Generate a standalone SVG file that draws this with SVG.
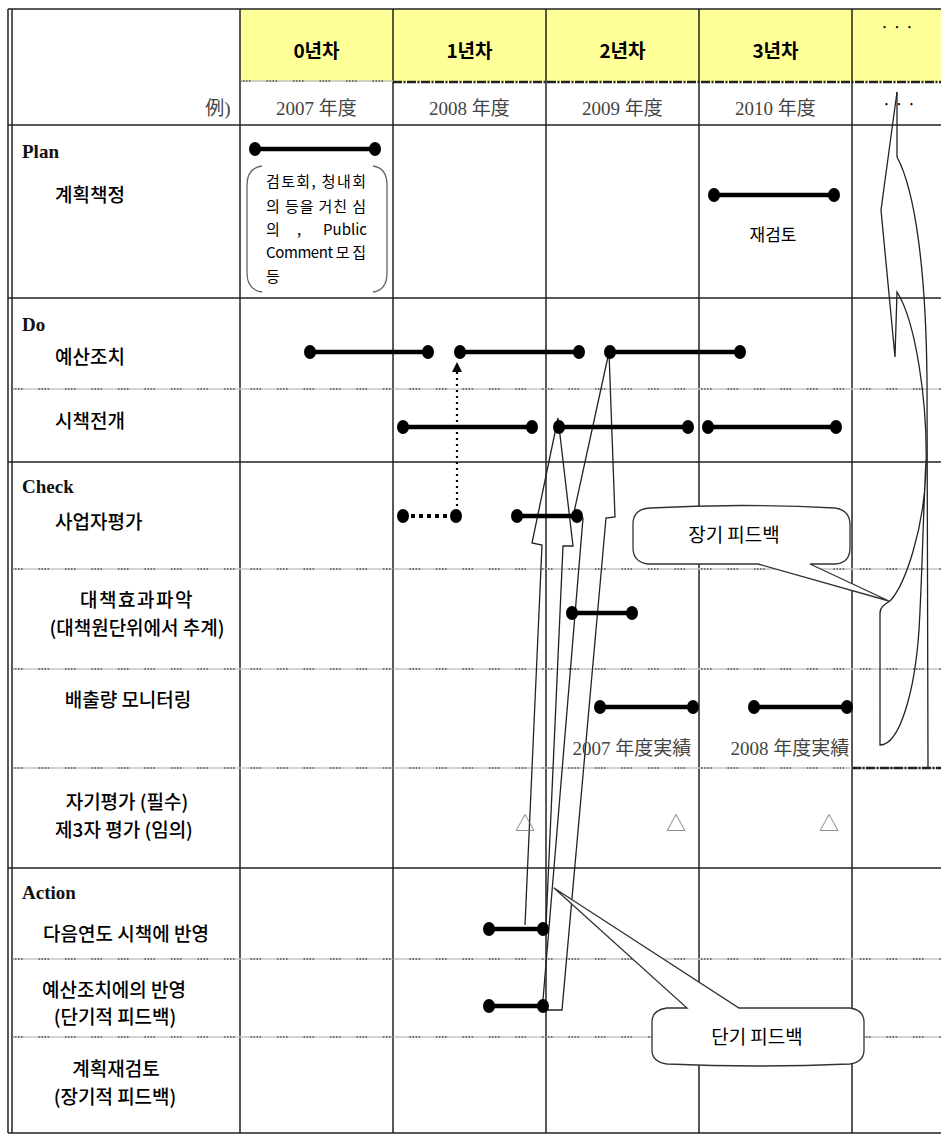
<svg xmlns="http://www.w3.org/2000/svg" width="941" height="1136" viewBox="0 0 941 1136">
<defs>
<style>
.grid{stroke:#222;stroke-width:1.5;fill:none}
.dotb{stroke:#c4c4c4;stroke-width:1.5}
.dotd{stroke:#555;stroke-width:1.5;stroke-dasharray:1.5 1.5 1.5 1.5 1.5 1.5 1.5 16}
.heavy{stroke:#222;stroke-width:2.5;stroke-dasharray:9 1.5 2 1.5}
.bar{stroke:#000;stroke-width:4.5;fill:none}
.pt{fill:#000}
.kr{font-family:"Noto Sans CJK KR","Noto Sans",sans-serif;fill:#000}
.lbl{font-size:19px;font-weight:500}
.hd{font-size:19px;font-weight:bold;text-anchor:middle}
.phase{font-family:"Liberation Serif",serif;font-weight:bold;font-size:19px;fill:#111}
.yr{font-family:"Liberation Serif","Noto Sans CJK JP",serif;font-size:19px;fill:#444;text-anchor:middle}
.outl{fill:none;stroke:#222;stroke-width:1.3;stroke-linejoin:miter}
.call{fill:#fff;stroke:#333;stroke-width:1.3}
.tri{font-family:"Noto Sans CJK JP","DejaVu Sans",sans-serif;font-size:20px;fill:#777;text-anchor:middle}
</style>
</defs>
<rect width="941" height="1136" fill="#fff"/>

<g id="header">
<rect x="240" y="9" width="701" height="73" fill="#FFFF99"/>
<text class="kr hd" x="316.5" y="58">0년차</text>
<text class="kr hd" x="469.5" y="58">1년차</text>
<text class="kr hd" x="622.5" y="58">2년차</text>
<text class="kr hd" x="775.5" y="58">3년차</text>
<text class="kr" x="897" y="33" font-size="16" text-anchor="middle">· · ·</text>
<text class="yr" x="218" y="115" text-anchor="end" fill="#777">例)</text>
<text class="yr" x="316.5" y="115">2007 年度</text>
<text class="yr" x="469.5" y="115">2008 年度</text>
<text class="yr" x="622.5" y="115">2009 年度</text>
<text class="yr" x="775.5" y="115">2010 年度</text>
<text class="kr" x="899" y="110" font-size="16" text-anchor="middle">· · ·</text>
</g>

<g id="grid">
<line class="grid" x1="8" y1="9" x2="941" y2="9"/>
<line class="grid" x1="8" y1="9" x2="8" y2="1133" stroke-width="1.2"/>
<line class="grid" x1="12" y1="9" x2="12" y2="1133" stroke-width="1.2"/>
<line class="grid" x1="8" y1="1133" x2="941" y2="1133"/>
<line class="grid" x1="240" y1="9" x2="240" y2="1133"/>
<line class="grid" x1="393" y1="9" x2="393" y2="1133"/>
<line class="grid" x1="546" y1="9" x2="546" y2="1133"/>
<line class="grid" x1="699" y1="9" x2="699" y2="1133"/>
<line class="grid" x1="852" y1="9" x2="852" y2="1133"/>
<line class="dotb" x1="240" y1="81" x2="393" y2="81"/>
<line class="dotd" x1="240" y1="81" x2="393" y2="81"/>
<line class="heavy" x1="393" y1="82" x2="941" y2="82"/>
<line class="grid" x1="8" y1="125" x2="941" y2="125" stroke-width="2"/>
<line class="grid" x1="8" y1="298" x2="941" y2="298"/>
<line class="grid" x1="8" y1="462" x2="941" y2="462"/>
<line class="grid" x1="8" y1="868" x2="941" y2="868"/>
<g>
<line class="dotb" x1="12" y1="389" x2="941" y2="389"/><line class="dotd" x1="12" y1="389" x2="941" y2="389"/>
<line class="dotb" x1="12" y1="569" x2="941" y2="569"/><line class="dotd" x1="12" y1="569" x2="941" y2="569"/>
<line class="dotb" x1="12" y1="669" x2="941" y2="669"/><line class="dotd" x1="12" y1="669" x2="941" y2="669"/>
<line class="dotb" x1="12" y1="768" x2="941" y2="768"/><line class="dotd" x1="12" y1="768" x2="941" y2="768"/>
<line class="heavy" x1="852" y1="768" x2="941" y2="768"/>
<line class="dotb" x1="12" y1="959" x2="941" y2="959"/><line class="dotd" x1="12" y1="959" x2="941" y2="959"/>
<line class="dotb" x1="12" y1="1037" x2="941" y2="1037"/><line class="dotd" x1="12" y1="1037" x2="941" y2="1037"/>
</g>
</g>

<g id="labels">
<text class="phase" x="22" y="158">Plan</text>
<text class="kr lbl" x="55" y="202">계획책정</text>
<text class="phase" x="22" y="331">Do</text>
<text class="kr lbl" x="55" y="364">예산조치</text>
<text class="kr lbl" x="55" y="428">시책전개</text>
<text class="phase" x="22" y="493">Check</text>
<text class="kr lbl" x="55" y="529">사업자평가</text>
<text class="kr lbl" x="137" y="607" text-anchor="middle" letter-spacing="1.5">대책효과파악</text>
<text class="kr lbl" x="137" y="635" text-anchor="middle">(대책원단위에서 추계)</text>
<text class="kr lbl" x="128" y="707" text-anchor="middle">배출량 모니터링</text>
<text class="kr lbl" x="127" y="809" text-anchor="middle">자기평가 (필수)</text>
<text class="kr lbl" x="124" y="837" text-anchor="middle">제3자 평가 (임의)</text>
<text class="phase" x="22" y="899">Action</text>
<text class="kr lbl" x="126" y="941" text-anchor="middle">다음연도 시책에 반영</text>
<text class="kr lbl" x="114" y="997" text-anchor="middle">예산조치에의 반영</text>
<text class="kr lbl" x="115" y="1024" text-anchor="middle">(단기적 피드백)</text>
<text class="kr lbl" x="116" y="1076" text-anchor="middle">계획재검토</text>
<text class="kr lbl" x="115" y="1104" text-anchor="middle">(장기적 피드백)</text>
</g>

<g id="plan-note">
<path d="M262,166 Q247,168 247,185 L247,273 Q247,290 262,292 M373,166 Q387,168 387,185 L387,273 Q387,290 373,292" fill="none" stroke="#666" stroke-width="1.3"/>
<g class="kr" font-size="15">
<text x="266" y="187" textLength="100" lengthAdjust="spacing">검토회, 청내회</text>
<text x="266" y="212" textLength="100" lengthAdjust="spacing">의 등을 거친 심</text>
<text x="266" y="235">의</text>
<text x="297" y="235">,</text>
<text x="367" y="235" text-anchor="end">Public</text>
<text x="266" y="258" textLength="100" lengthAdjust="spacing">Comment 모 집</text>
<text x="266" y="282">등</text>
</g>
<text class="kr" x="773" y="241" font-size="17" text-anchor="middle">재검토</text>
</g>

<g id="connectors">
<path class="outl" d="M525,925 L542,545 L532,543 L558,418 L573,546 L563,546 L546,925"/>
<path class="outl" d="M543,1000 L583,518 L573,517 L609,352 L615,517 L606,518 L562,1010 L547,1010"/>
<path class="outl" d="M897,92 L897,157 C915,190 926,270 927,380 L928,768"/>
<path class="outl" d="M897,92 L881,210 L895,357 L897,292 C915,320 928,400 926,470 C924,530 905,585 890,601 C885,604 880,607 880,613 L880,745 C900,745 915,690 919,630 C922,580 923,520 926,460"/>
<line x1="457" y1="512" x2="457" y2="372" stroke="#000" stroke-width="2.2" stroke-dasharray="2 4"/>
<polygon points="457,362 452,372 462,372" fill="#000"/>
</g>

<g id="bars">
<g id="bar-plan"><line class="bar" x1="255" y1="149" x2="375" y2="149"/><ellipse class="pt" cx="255" cy="149" rx="6" ry="7"/><ellipse class="pt" cx="375" cy="149" rx="6" ry="7"/></g>
<g id="bar-review"><line class="bar" x1="714" y1="195" x2="834" y2="195"/><ellipse class="pt" cx="714" cy="195" rx="6" ry="7"/><ellipse class="pt" cx="834" cy="195" rx="6" ry="7"/></g>
<g id="bar-budget">
<line class="bar" x1="310" y1="352" x2="428" y2="352"/><ellipse class="pt" cx="310" cy="352" rx="6" ry="7"/><ellipse class="pt" cx="428" cy="352" rx="6" ry="7"/>
<line class="bar" x1="460" y1="352" x2="579" y2="352"/><ellipse class="pt" cx="460" cy="352" rx="6" ry="7"/><ellipse class="pt" cx="579" cy="352" rx="6" ry="7"/>
<line class="bar" x1="610" y1="352" x2="740" y2="352"/><ellipse class="pt" cx="610" cy="352" rx="6" ry="7"/><ellipse class="pt" cx="740" cy="352" rx="6" ry="7"/>
</g>
<g id="bar-policy">
<line class="bar" x1="403" y1="427" x2="532" y2="427"/><ellipse class="pt" cx="403" cy="427" rx="6" ry="7"/><ellipse class="pt" cx="532" cy="427" rx="6" ry="7"/>
<line class="bar" x1="559" y1="427" x2="688" y2="427"/><ellipse class="pt" cx="559" cy="427" rx="6" ry="7"/><ellipse class="pt" cx="688" cy="427" rx="6" ry="7"/>
<line class="bar" x1="708" y1="427" x2="836" y2="427"/><ellipse class="pt" cx="708" cy="427" rx="6" ry="7"/><ellipse class="pt" cx="836" cy="427" rx="6" ry="7"/>
</g>
<g id="bar-eval">
<line x1="403" y1="516" x2="456" y2="516" stroke="#000" stroke-width="4" stroke-dasharray="4 4"/><ellipse class="pt" cx="403" cy="516" rx="6" ry="7"/><ellipse class="pt" cx="456" cy="516" rx="6" ry="7"/>
<line class="bar" x1="517" y1="516" x2="577" y2="516"/><ellipse class="pt" cx="517" cy="516" rx="6" ry="7"/><ellipse class="pt" cx="577" cy="516" rx="6" ry="7"/>
</g>
<g id="bar-effect"><line class="bar" x1="572" y1="613" x2="632" y2="613"/><ellipse class="pt" cx="572" cy="613" rx="6" ry="7"/><ellipse class="pt" cx="632" cy="613" rx="6" ry="7"/></g>
<g id="bar-monitor">
<line class="bar" x1="600" y1="707" x2="693" y2="707"/><ellipse class="pt" cx="600" cy="707" rx="6" ry="7"/><ellipse class="pt" cx="693" cy="707" rx="6" ry="7"/>
<line class="bar" x1="754" y1="707" x2="847" y2="707"/><ellipse class="pt" cx="754" cy="707" rx="6" ry="7"/><ellipse class="pt" cx="847" cy="707" rx="6" ry="7"/>
<text class="yr" x="632" y="755" font-size="18">2007 年度実績</text>
<text class="yr" x="790" y="755" font-size="18">2008 年度実績</text>
</g>
<g id="marks">
<text class="tri" x="525" y="831">△</text>
<text class="tri" x="676" y="831">△</text>
<text class="tri" x="829" y="831">△</text>
</g>
<g id="bar-next"><line class="bar" x1="489" y1="929" x2="543" y2="929"/><ellipse class="pt" cx="489" cy="929" rx="6" ry="7"/><ellipse class="pt" cx="543" cy="929" rx="6" ry="7"/></g>
<g id="bar-reflect"><line class="bar" x1="489" y1="1006" x2="543" y2="1006"/><ellipse class="pt" cx="489" cy="1006" rx="6" ry="7"/><ellipse class="pt" cx="543" cy="1006" rx="6" ry="7"/></g>
</g>

<g id="callout-long">
<path class="call" d="M650,508 Q740,503 835,508 Q850,510 850,525 L850,548 Q850,563 835,564 L810,564 L889,601 L758,564 L648,564 Q633,562 633,548 L633,524 Q633,509 650,508 Z"/>
<text class="kr" x="734" y="542" font-size="19" text-anchor="middle">장기 피드백</text>
</g>
<g id="callout-short">
<path class="call" d="M667,1008 L687,1008 L554,888 L739,1008 L850,1008 Q864,1010 864,1022 L864,1050 Q864,1062 850,1064 Q757,1068 667,1064 Q652,1062 652,1050 L652,1022 Q652,1010 667,1008 Z"/>
<text class="kr" x="757" y="1044" font-size="19" text-anchor="middle">단기 피드백</text>
</g>
</svg>
